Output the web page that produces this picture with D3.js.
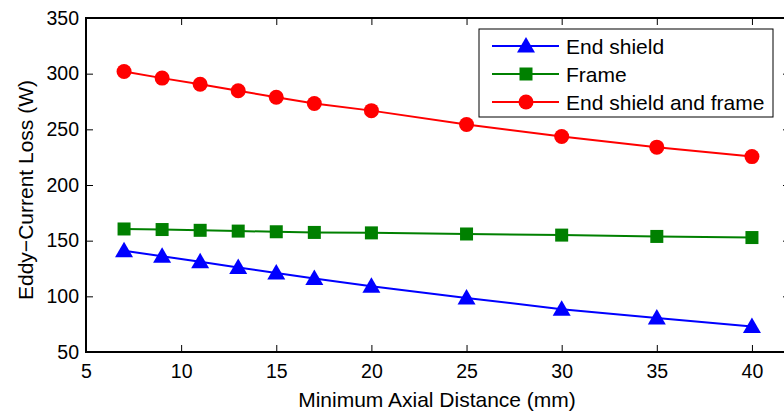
<!DOCTYPE html>
<html>
<head>
<meta charset="utf-8">
<script src="https://cdn.jsdelivr.net/npm/d3@7"></script>
<style>
  body { margin: 0; background: #fff; }
  svg { display: block; font-family: "Liberation Sans", Arial, sans-serif; }
</style>
</head>
<body>
<div id="chart"></div>
<script>
// chart data
var distances = [7, 9, 11, 13, 15, 17, 20, 25, 30, 35, 40];
var endShield = [141, 136, 131, 126, 121, 116, 109, 98.5, 88.5, 80.5, 73];
var frame = [160.5, 160, 159.3, 158.6, 158, 157.4, 157, 156, 155, 153.8, 152.8];
var endShieldFrame = [302, 296, 290.5, 284.6, 278.8, 273.2, 266.8, 254.3, 243.5, 234, 225.5];
var xTicks = [5, 10, 15, 20, 25, 30, 35, 40];
var yTicks = [50, 100, 150, 200, 250, 300, 350];
var seriesNames = ["End shield", "Frame", "End shield and frame"];

window.onload = function() {

  var W = 784, H = 412;
  var margin = {top: 18, bottom: 60, left: 86, right: -6},
    width = W - margin.left - margin.right,
    height = H - margin.top - margin.bottom;

  var svg = d3.select("#chart")
    .append("svg")
    .attr("width", W)
    .attr("height", H);

  var g = svg.append("g")
    .attr("transform", "translate(" + margin.left + "," + margin.top + ")");

  var x = d3.scaleLinear().domain([5, 42]).range([0, width]);
  var y = d3.scaleLinear().domain([50, 350]).range([height, 0]);

  var series = [
    {name: seriesNames[0], values: endShield, color: "#0000ff", marker: "triangle"},
    {name: seriesNames[1], values: frame, color: "#008000", marker: "square"},
    {name: seriesNames[2], values: endShieldFrame, color: "#ff0000", marker: "circle"}
  ];

  // axes: ticks pointing inward, mirrored on top/right
  function styleAxis(sel) {
    sel.select(".domain").remove();
    sel.selectAll("line").attr("stroke", "#000").attr("stroke-width", 1);
    sel.selectAll("text").attr("font-size", "19.5px").attr("fill", "#000");
  }

  g.append("g")
    .attr("transform", "translate(0," + height + ")")
    .call(d3.axisBottom(x).tickValues(xTicks).tickSizeInner(-7).tickPadding(12).tickFormat(d3.format("d")))
    .call(styleAxis);

  g.append("g")
    .call(d3.axisLeft(y).tickValues(yTicks).tickSizeInner(-7).tickPadding(7).tickFormat(d3.format("d")))
    .call(styleAxis);

  g.append("g")
    .call(d3.axisTop(x).tickValues(xTicks).tickSizeInner(-7).tickFormat(""))
    .call(styleAxis);

  g.append("g")
    .attr("transform", "translate(" + width + ",0)")
    .call(d3.axisRight(y).tickValues(yTicks).tickSizeInner(-7).tickFormat(""))
    .call(styleAxis);

  // box
  g.append("rect")
    .attr("width", width)
    .attr("height", height)
    .attr("fill", "none")
    .attr("stroke", "#000")
    .attr("stroke-width", 2);

  var line = d3.line()
    .x(function(d, i) { return x(distances[i]); })
    .y(function(d) { return y(d); });

  function drawMarker(sel, type, color) {
    if (type === "circle") {
      sel.append("circle").attr("r", 7.5).attr("fill", color);
    } else if (type === "square") {
      sel.append("rect").attr("x", -6.5).attr("y", -6.5).attr("width", 13).attr("height", 13).attr("fill", color);
    } else {
      sel.append("path").attr("d", "M0,-9L9,6.5L-9,6.5Z").attr("fill", color);
    }
  }

  series.forEach(function(s) {
    g.append("path")
      .datum(s.values)
      .attr("fill", "none")
      .attr("stroke", s.color)
      .attr("stroke-width", 2)
      .attr("d", line);

    g.selectAll(null)
      .data(s.values)
      .enter()
      .append("g")
      .attr("transform", function(d, i) { return "translate(" + x(distances[i]) + "," + y(d) + ")"; })
      .each(function() { drawMarker(d3.select(this), s.marker, s.color); });
  });

  // axis titles
  svg.append("text")
    .attr("x", 437)
    .attr("y", 407)
    .attr("text-anchor", "middle")
    .attr("font-size", "21px")
    .text("Minimum Axial Distance (mm)");

  svg.append("text")
    .attr("transform", "translate(33,190) rotate(-90)")
    .attr("text-anchor", "middle")
    .attr("font-size", "21px")
    .text("Eddy\u2212Current Loss (W)");

  // legend
  var legend = svg.append("g").attr("transform", "translate(479,29)");
  legend.append("rect")
    .attr("width", 294)
    .attr("height", 88)
    .attr("fill", "#fff")
    .attr("stroke", "#000")
    .attr("stroke-width", 1);

  series.forEach(function(s, i) {
    var row = legend.append("g").attr("transform", "translate(0," + (17 + i * 28) + ")");
    row.append("line")
      .attr("x1", 13).attr("x2", 80)
      .attr("stroke", s.color).attr("stroke-width", 2);
    var m = row.append("g").attr("transform", "translate(47,0)");
    drawMarker(m, s.marker, s.color);
    row.append("text")
      .attr("x", 87)
      .attr("y", 7.5)
      .attr("font-size", "21px")
      .text(s.name);
  });

};
</script>
</body>
</html>
